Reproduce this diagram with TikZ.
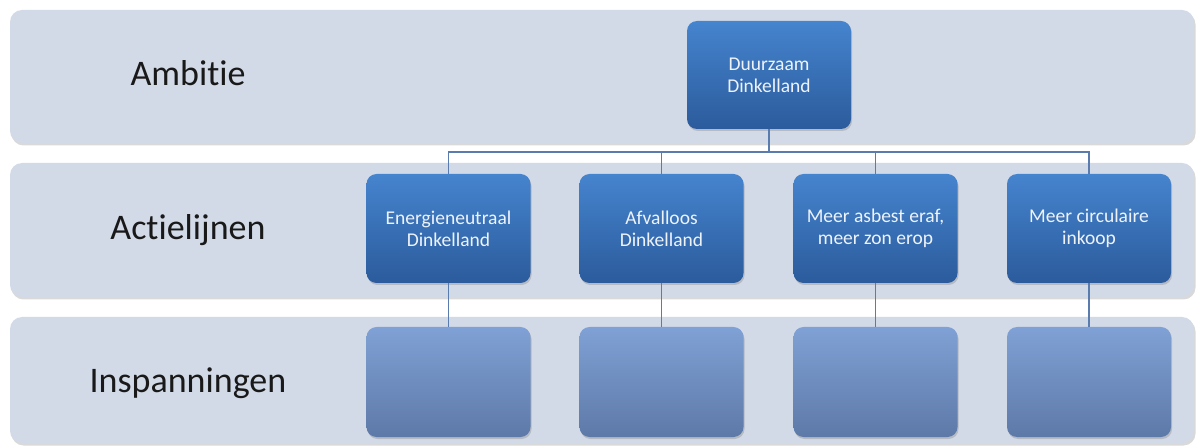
\documentclass[tikz,border=0pt]{standalone}
\usepackage{fontspec}
\setmainfont{Carlito}[Ligatures=NoCommon]
\usepackage{tikz}
\usetikzlibrary{shadows}

\definecolor{bandfill}{HTML}{D2DAE8}
\definecolor{acttop}{HTML}{4584CE}
\definecolor{actbot}{HTML}{2B5B9C}
\definecolor{efftop}{HTML}{80A1D5}
\definecolor{effbot}{HTML}{5D79A8}
\definecolor{linkcol}{HTML}{5A7BAE}
\definecolor{boxtext}{HTML}{EEF3FA}

\tikzset{
  bandbox/.style={rectangle, rounded corners=12pt, fill=bandfill, minimum width=1184pt,
    drop shadow={opacity=0.3, shadow xshift=1.5pt, shadow yshift=-2.5pt}},
  actbox/.style={rectangle, rounded corners=10pt, top color=acttop, bottom color=actbot,
    minimum width=164pt, minimum height=109pt, text=boxtext, align=center,
    font=\fontsize{19.5}{22}\selectfont,
    drop shadow={opacity=0.35, shadow xshift=1pt, shadow yshift=-2pt}},
  effortbox/.style={actbox, top color=efftop, bottom color=effbot, minimum height=110pt},
  rowlabel/.style={anchor=base, font=\fontsize{36}{40}\selectfont, text=black!90},
  link/.style={draw=linkcol, line width=1.1pt}
}

\begin{document}
\begin{tikzpicture}[x=1pt, y=-1pt]
		\useasboundingbox (0,0) rectangle (1197,446);
		% rows
		\node[bandbox, minimum height=133pt] (ambband) at (602,76.5) {};
		\node[bandbox, minimum height=134pt] (actband) at (602,230) {};
		\node[bandbox, minimum height=126pt] (effband) at (602,380) {};
		\node[rowlabel] (ambitie) at (188,86) {Ambitie};
		\node[rowlabel] (actielijnen) at (188,240) {Actielijnen};
		\node[rowlabel] (inspanningen) at (188,392) {Inspanningen};
		% ambition
		\node[actbox, minimum height=108pt] (duurzaam) at (769,75) {Duurzaam\\Dinkelland};
		% action lines
		\node[actbox] (energie) at (448.5,228.5) {Energieneutraal\\Dinkelland};
		\node[actbox] (afval) at (661.5,228.5) {Afvalloos\\Dinkelland};
		\node[actbox] (asbest) at (875.5,228.5) {Meer asbest eraf,\\meer zon erop};
		\node[actbox] (inkoop) at (1089,228.5) {Meer circulaire\\inkoop};
		% efforts
		\node[effortbox] (energieI) at (448.5,382) {};
		\node[effortbox] (afvalI) at (661.5,382) {};
		\node[effortbox] (asbestI) at (875.5,382) {};
		\node[effortbox] (inkoopI) at (1089,382) {};
		% connectors
		\coordinate (bus) at (769,152);
		\foreach \act in {energie, afval, asbest, inkoop}{
			\draw[link] (duurzaam.south) -- (duurzaam.south |- bus) -| (\act.north);
			\draw[link] (\act.south) -- (\act I.north);
		}
	\end{tikzpicture}
\end{document}
